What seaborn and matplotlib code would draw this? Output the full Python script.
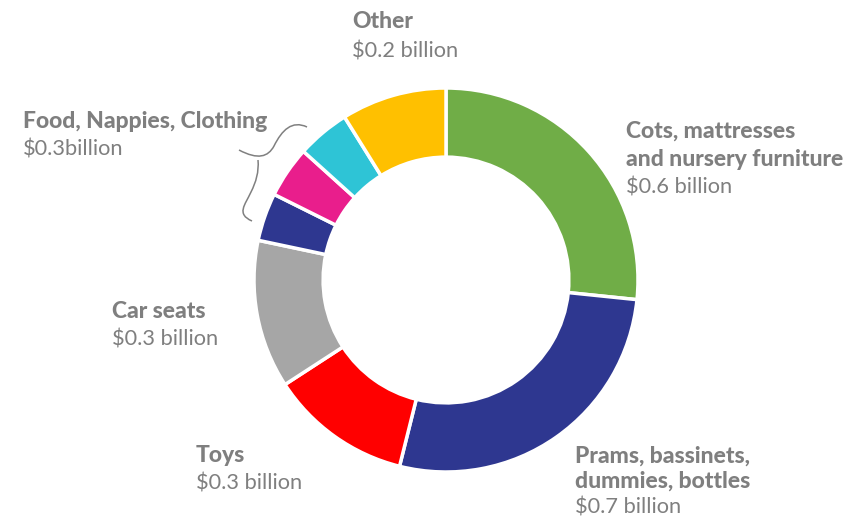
import matplotlib
matplotlib.use('Agg')
import matplotlib.pyplot as plt
import seaborn as sns
from matplotlib.path import Path
from matplotlib.patches import PathPatch

# data (billions), clockwise from the top
categories = ['Cots, mattresses and nursery furniture', 'Prams, bassinets, dummies, bottles',
              'Toys', 'Car seats', 'Food', 'Nappies', 'Clothing', 'Other']
values = [0.64, 0.655, 0.287, 0.30, 0.097, 0.104, 0.107, 0.213]
colors = ['#70AD47', '#2E3790', '#FF0000', '#A6A6A6', '#2E3790', '#E91E8C', '#2EC4D6', '#FFC000']

# label text
label_titles = [['Other'], ['Food, Nappies, Clothing'], ['Cots, mattresses', 'and nursery furniture'],
                ['Car seats'], ['Toys'], ['Prams, bassinets,', 'dummies, bottles']]
label_values = ['$0.2 billion', '$0.3billion', '$0.6 billion', '$0.3 billion', '$0.3 billion', '$0.7 billion']

sns.set_theme(style='white')
plt.rcParams['font.family'] = ['Lato', 'DejaVu Sans']

W, H = 865, 521
fig = plt.figure(figsize=(W / 100, H / 100), dpi=100)

# donut axes: centre (446, 280) px, radius 192 px
cx, cy, r = 446, 280, 192
ax = fig.add_axes([(cx - r) / W, (H - cy - r) / H, 2 * r / W, 2 * r / H])
ax.pie(values, colors=colors, startangle=90, counterclock=False, radius=1,
       wedgeprops=dict(width=0.36, edgecolor='white', linewidth=2.5))
ax.set_xlim(-1, 1)
ax.set_ylim(-1, 1)
ax.set_aspect('auto')
ax.axis('off')

# overlay axes in pixel coordinates for text and brace
ov = fig.add_axes([0, 0, 1, 1])
ov.set_xlim(0, W)
ov.set_ylim(H, 0)
ov.axis('off')
ov.patch.set_alpha(0)

grey = '#7F7F7F'
pos = [(352, 22), (23, 121), (626, 131), (112, 311), (196, 456), (575, 456)]
line_hs = [29, 28, 28, 27, 27, 25.5]
for title, val, (x, y), line_h in zip(label_titles, label_values, pos, line_hs):
    for i, line in enumerate(title):
        ov.text(x, y + i * line_h, line, fontsize=16.5, fontweight='black', color=grey,
                va='center', ha='left')
    ov.text(x, y + len(title) * line_h + 1, val, fontsize=15.7, color=grey, va='center', ha='left')

# curly brace
upper = Path([(307, 127), (292, 120), (282, 130), (274, 146),
              (268, 157), (258, 160), (239, 150)],
             [Path.MOVETO] + [Path.CURVE4] * 6)
lower = Path([(258, 160), (259, 172), (256, 182), (251, 192),
              (245, 205), (236, 214), (252, 221)],
             [Path.MOVETO] + [Path.CURVE4] * 6)
for p in (upper, lower):
    ov.add_patch(PathPatch(p, fill=False, edgecolor='#808080', linewidth=1.1))

fig.savefig('out.png', dpi=100)
